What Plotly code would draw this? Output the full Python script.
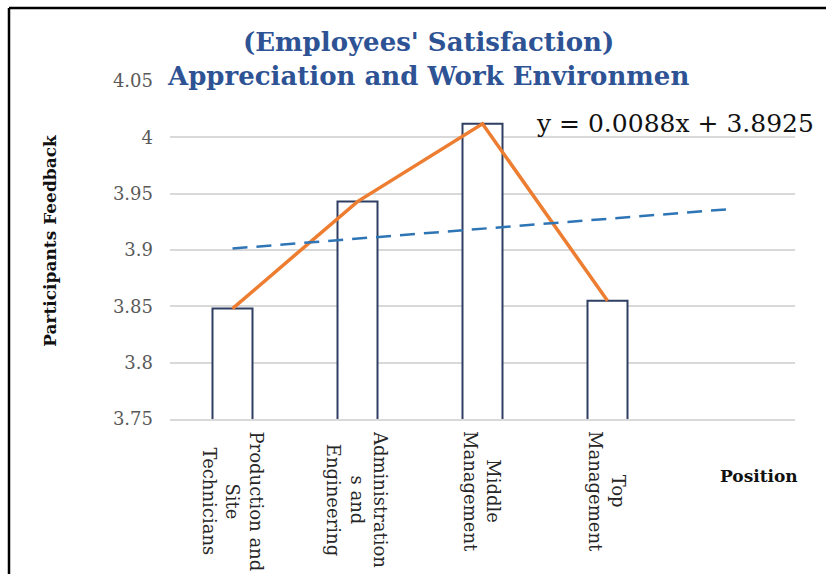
import plotly.graph_objects as go

# Survey results: mean participant feedback per position
positions = ["Production and<br>Site<br>Technicians",
             "Administration<br>s and<br>Engineering",
             "Middle<br>Management",
             "Top<br>Management"]
feedback = [3.848, 3.943, 4.012, 3.855]

# Linear trendline (forecast one period forward)
trend_slope = 0.0088
trend_intercept = 3.8925
trend_x = [1, 5]

y_ticks = [3.75, 3.8, 3.85, 3.9, 3.95, 4.0, 4.05]
y_tick_text = ["3.75", "3.8", "3.85", "3.9", "3.95", "4", "4.05"]

SERIF = "DejaVu Serif"
x_idx = list(range(1, len(positions) + 1))

fig = go.Figure()

fig.add_trace(go.Bar(
    x=x_idx, y=feedback,
    width=0.32,
    marker=dict(color="rgba(255,255,255,1)",
                line=dict(color="#2F3F63", width=2)),
    hoverinfo="skip", showlegend=False,
))

fig.add_trace(go.Scatter(
    x=x_idx, y=feedback, mode="lines",
    line=dict(color="#ED7D31", width=3.5),
    hoverinfo="skip", showlegend=False,
))

fig.add_trace(go.Scatter(
    x=trend_x, y=[trend_slope * v + trend_intercept for v in trend_x],
    mode="lines",
    line=dict(color="#2E75B6", width=2.5, dash="15px,9px"),
    hoverinfo="skip", showlegend=False,
))

annotations = []
# category labels, rotated and centred under each bar
for i, name in zip(x_idx, positions):
    annotations.append(dict(
        x=i, xref="x", y=0, yref="paper", yanchor="top", xanchor="center",
        yshift=-10, text=name, textangle=90, showarrow=False, align="center",
        font=dict(family=SERIF, size=18, color="#262626"),
    ))

annotations += [
    dict(text="<b>(Employees' Satisfaction)<br>Appreciation and Work Environmen</b>",
         x=0.413, y=1.066, xref="paper", yref="paper", showarrow=False,
         xanchor="center", yanchor="middle", align="center", bgcolor="white",
         font=dict(family=SERIF, size=26, color="#2E5395")),
    dict(text="y = 0.0088x + 3.8925",
         x=0.808, y=0.873, xref="paper", yref="paper", showarrow=False,
         xanchor="center", yanchor="middle",
         font=dict(family=SERIF, size=25, color="#111111")),
    dict(text="<b>Participants Feedback</b>", textangle=-90,
         x=-0.192, y=0.527, xref="paper", yref="paper", showarrow=False,
         xanchor="center", yanchor="middle",
         font=dict(family=SERIF, size=17, color="#111111")),
    dict(text="<b>Position</b>",
         x=0.942, y=-0.169, xref="paper", yref="paper", showarrow=False,
         xanchor="center", yanchor="middle",
         font=dict(family=SERIF, size=17, color="#111111")),
]

# outer frame (left and top edges)
frame = dict(type="line", xref="paper", yref="paper",
             line=dict(color="black", width=2.5))
shapes = [
    dict(frame, x0=-0.2576, x1=-0.2576, y0=1.216, y1=-0.6),
    dict(frame, x0=-0.2576, x1=1.2, y0=1.216, y1=1.216),
]

fig.update_layout(
    width=826, height=574,
    margin=dict(l=170, r=31, t=81, b=155),
    paper_bgcolor="white", plot_bgcolor="white",
    font=dict(family=SERIF),
    xaxis=dict(range=[0.5, 5.5], showticklabels=False, showgrid=False,
               zeroline=False, showline=True, linecolor="#D9D9D9",
               linewidth=1.5, ticks=""),
    yaxis=dict(range=[3.75, 4.05], tickvals=y_ticks, ticktext=y_tick_text,
               showgrid=True, gridcolor="#D9D9D9", gridwidth=1.5,
               zeroline=False, showline=False, ticks="", ticklabelstandoff=16,
               tickfont=dict(family=SERIF, size=18, color="#595959")),
    annotations=annotations,
    shapes=shapes,
)

fig.write_html("out.html")
